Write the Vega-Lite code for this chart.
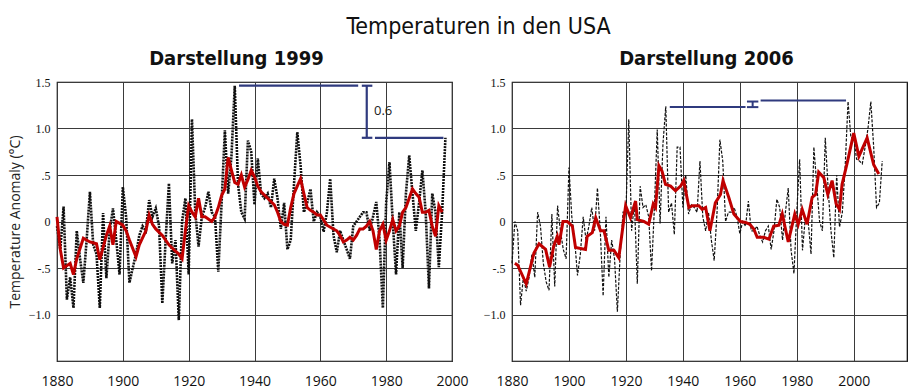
{
  "$schema": "https://vega.github.io/schema/vega-lite/v6.json",
  "background": "white",
  "padding": {"left": 7, "top": 16, "right": 6, "bottom": 2},
  "title": {"text": "Temperaturen in den USA", "fontSize": 23, "font": "Liberation Sans Narrow, DejaVu Sans Condensed, sans-serif", "fontWeight": "normal", "anchor": "middle", "offset": 9, "color": "#111", "dx": 21},
  "spacing": 13,
  "config": {
    "view": {"stroke": "black", "strokeWidth": 1.2},
    "axis": {"domain": false, "gridColor": "#3a3a3a", "gridOpacity": 1, "gridWidth": 1, "labelColor": "#111", "ticks": false},
    "title": {"font": "Liberation Sans Narrow, DejaVu Sans Condensed, sans-serif", "fontSize": 20, "fontWeight": "bold", "color": "#111", "offset": 7}
  },
  "datasets": {
    "left_annual": [
      {"year":1880,"value":-0.05},{"year":1881,"value":-0.3},{"year":1882,"value":0.16},{"year":1883,"value":-0.84},{"year":1884,"value":-0.6},{"year":1885,"value":-0.93},{"year":1886,"value":-0.1},{"year":1887,"value":-0.4},{"year":1888,"value":-0.66},{"year":1889,"value":-0.2},
      {"year":1890,"value":0.32},{"year":1891,"value":-0.25},{"year":1892,"value":-0.35},{"year":1893,"value":-0.93},{"year":1894,"value":0.09},{"year":1895,"value":-0.61},{"year":1896,"value":-0.1},{"year":1897,"value":0.14},{"year":1898,"value":-0.2},{"year":1899,"value":-0.57},
      {"year":1900,"value":0.37},{"year":1901,"value":0.05},{"year":1902,"value":-0.66},{"year":1903,"value":-0.5},{"year":1904,"value":-0.35},{"year":1905,"value":-0.15},{"year":1906,"value":-0.05},{"year":1907,"value":-0.1},{"year":1908,"value":0.23},{"year":1909,"value":0.05},
      {"year":1910,"value":0.14},{"year":1911,"value":-0.05},{"year":1912,"value":-0.88},{"year":1913,"value":-0.2},{"year":1914,"value":0.41},{"year":1915,"value":-0.45},{"year":1916,"value":-0.2},{"year":1917,"value":-1.06},{"year":1918,"value":0.0},{"year":1919,"value":0.25},
      {"year":1920,"value":-0.57},{"year":1921,"value":1.1},{"year":1922,"value":0.1},{"year":1923,"value":-0.27},{"year":1924,"value":0.05},{"year":1925,"value":0.15},{"year":1926,"value":0.32},{"year":1927,"value":0.1},{"year":1928,"value":0.05},{"year":1929,"value":-0.54},
      {"year":1930,"value":0.2},{"year":1931,"value":0.98},{"year":1932,"value":0.3},{"year":1933,"value":0.7},{"year":1934,"value":1.46},{"year":1935,"value":0.4},{"year":1936,"value":0.1},{"year":1937,"value":0.03},{"year":1938,"value":0.87},{"year":1939,"value":0.75},
      {"year":1940,"value":0.18},{"year":1941,"value":0.68},{"year":1942,"value":0.3},{"year":1943,"value":0.25},{"year":1944,"value":0.3},{"year":1945,"value":0.15},{"year":1946,"value":0.46},{"year":1947,"value":0.25},{"year":1948,"value":-0.08},{"year":1949,"value":0.2},
      {"year":1950,"value":-0.3},{"year":1951,"value":-0.2},{"year":1952,"value":0.4},{"year":1953,"value":0.96},{"year":1954,"value":0.6},{"year":1955,"value":0.1},{"year":1956,"value":0.2},{"year":1957,"value":0.35},{"year":1958,"value":0.0},{"year":1959,"value":0.1},
      {"year":1960,"value":0.05},{"year":1961,"value":-0.11},{"year":1962,"value":0.1},{"year":1963,"value":0.46},{"year":1964,"value":-0.15},{"year":1965,"value":-0.33},{"year":1966,"value":-0.1},{"year":1967,"value":-0.2},{"year":1968,"value":-0.3},{"year":1969,"value":-0.4},
      {"year":1970,"value":-0.05},{"year":1971,"value":0.0},{"year":1972,"value":0.05},{"year":1973,"value":0.1},{"year":1974,"value":0.1},{"year":1975,"value":-0.1},{"year":1976,"value":0.05},{"year":1977,"value":0.21},{"year":1978,"value":-0.2},{"year":1979,"value":-0.93},
      {"year":1980,"value":0.2},{"year":1981,"value":0.64},{"year":1982,"value":0.0},{"year":1983,"value":-0.57},{"year":1984,"value":0.1},{"year":1985,"value":-0.5},{"year":1986,"value":0.3},{"year":1987,"value":0.71},{"year":1988,"value":0.3},{"year":1989,"value":-0.1},
      {"year":1990,"value":0.2},{"year":1991,"value":0.55},{"year":1992,"value":0.1},{"year":1993,"value":-0.72},{"year":1994,"value":0.3},{"year":1995,"value":0.1},{"year":1996,"value":-0.49},{"year":1997,"value":0.1},{"year":1998,"value":0.9}
    ],
    "left_mean": [
      {"year":1880,"value":0.05},{"year":1881,"value":-0.3},{"year":1882,"value":-0.5},{"year":1884,"value":-0.45},{"year":1885,"value":-0.57},{"year":1886,"value":-0.4},{"year":1888,"value":-0.18},{"year":1890,"value":-0.22},{"year":1892,"value":-0.24},{"year":1893,"value":-0.41},
      {"year":1895,"value":-0.15},{"year":1896,"value":-0.05},{"year":1897,"value":-0.25},{"year":1898,"value":0.0},{"year":1900,"value":-0.04},{"year":1901,"value":-0.1},{"year":1902,"value":-0.2},{"year":1904,"value":-0.38},{"year":1905,"value":-0.25},{"year":1907,"value":-0.1},
      {"year":1908,"value":0.07},{"year":1909,"value":-0.03},{"year":1910,"value":-0.08},{"year":1912,"value":-0.15},{"year":1914,"value":-0.25},{"year":1916,"value":-0.32},{"year":1917,"value":-0.35},{"year":1918,"value":-0.4},{"year":1919,"value":-0.1},{"year":1920,"value":0.17},
      {"year":1921,"value":0.1},{"year":1922,"value":0.05},{"year":1923,"value":0.25},{"year":1924,"value":0.05},{"year":1925,"value":0.05},{"year":1927,"value":0.0},{"year":1928,"value":0.05},{"year":1929,"value":0.15},{"year":1930,"value":0.28},{"year":1931,"value":0.35},
      {"year":1932,"value":0.69},{"year":1933,"value":0.55},{"year":1934,"value":0.42},{"year":1935,"value":0.4},{"year":1936,"value":0.5},{"year":1937,"value":0.37},{"year":1938,"value":0.45},{"year":1939,"value":0.55},{"year":1940,"value":0.48},{"year":1941,"value":0.38},
      {"year":1942,"value":0.32},{"year":1944,"value":0.25},{"year":1946,"value":0.18},{"year":1947,"value":0.1},{"year":1948,"value":0.0},{"year":1949,"value":-0.03},{"year":1950,"value":-0.04},{"year":1951,"value":0.15},{"year":1952,"value":0.3},{"year":1953,"value":0.38},
      {"year":1954,"value":0.46},{"year":1955,"value":0.3},{"year":1956,"value":0.15},{"year":1957,"value":0.12},{"year":1958,"value":0.1},{"year":1959,"value":0.07},{"year":1960,"value":0.07},{"year":1962,"value":-0.04},{"year":1964,"value":-0.08},{"year":1965,"value":-0.1},
      {"year":1966,"value":-0.15},{"year":1967,"value":-0.22},{"year":1968,"value":-0.2},{"year":1969,"value":-0.17},{"year":1970,"value":-0.2},{"year":1971,"value":-0.15},{"year":1972,"value":-0.08},{"year":1973,"value":-0.08},{"year":1974,"value":-0.05},{"year":1975,"value":0.0},
      {"year":1976,"value":-0.1},{"year":1977,"value":-0.3},{"year":1978,"value":-0.1},{"year":1979,"value":-0.03},{"year":1980,"value":-0.2},{"year":1981,"value":-0.1},{"year":1982,"value":0.02},{"year":1983,"value":-0.1},{"year":1984,"value":-0.05},{"year":1985,"value":0.1},
      {"year":1986,"value":0.15},{"year":1987,"value":0.25},{"year":1988,"value":0.35},{"year":1989,"value":0.3},{"year":1990,"value":0.26},{"year":1991,"value":0.1},{"year":1992,"value":0.1},{"year":1993,"value":0.12},{"year":1994,"value":-0.05},{"year":1995,"value":-0.16},
      {"year":1996,"value":0.17},{"year":1997,"value":0.1}
    ],
    "left_annot": [
      {"x1":1935.3,"x2":1971.5,"y1":1.46,"y2":1.46},
      {"x1":1972.6,"x2":1975.8,"y1":1.46,"y2":1.46},
      {"x1":1974.1,"x2":1974.1,"y1":1.46,"y2":0.9},
      {"x1":1972.6,"x2":1975.8,"y1":0.9,"y2":0.9},
      {"x1":1976.6,"x2":1997.4,"y1":0.9,"y2":0.9}
    ],
    "right_annual": [
      {"year":1880,"value":-0.45},{"year":1881,"value":0.0},{"year":1882,"value":-0.1},{"year":1883,"value":-0.9},{"year":1884,"value":-0.6},{"year":1885,"value":-0.75},{"year":1886,"value":-0.6},{"year":1887,"value":-0.35},{"year":1888,"value":-0.6},{"year":1889,"value":0.1},
      {"year":1890,"value":-0.05},{"year":1891,"value":-0.45},{"year":1892,"value":-0.65},{"year":1893,"value":-0.74},{"year":1894,"value":0.08},{"year":1895,"value":-0.7},{"year":1896,"value":0.17},{"year":1897,"value":-0.1},{"year":1898,"value":-0.3},{"year":1899,"value":-0.4},
      {"year":1900,"value":0.58},{"year":1901,"value":0.05},{"year":1902,"value":-0.2},{"year":1903,"value":-0.58},{"year":1904,"value":-0.35},{"year":1905,"value":0.05},{"year":1906,"value":-0.2},{"year":1907,"value":-0.05},{"year":1908,"value":0.15},{"year":1909,"value":-0.1},
      {"year":1910,"value":0.36},{"year":1911,"value":-0.1},{"year":1912,"value":-0.8},{"year":1913,"value":0.05},{"year":1914,"value":-0.6},{"year":1915,"value":-0.2},{"year":1916,"value":-0.4},{"year":1917,"value":-0.97},{"year":1918,"value":-0.35},{"year":1919,"value":0.1},
      {"year":1920,"value":0.1},{"year":1921,"value":1.1},{"year":1922,"value":-0.1},{"year":1923,"value":0.2},{"year":1924,"value":-0.67},{"year":1925,"value":0.38},{"year":1926,"value":0.15},{"year":1927,"value":0.18},{"year":1928,"value":0.05},{"year":1929,"value":-0.53},
      {"year":1930,"value":0.15},{"year":1931,"value":0.99},{"year":1932,"value":-0.02},{"year":1933,"value":0.83},{"year":1934,"value":1.24},{"year":1935,"value":0.1},{"year":1936,"value":0.2},{"year":1937,"value":-0.14},{"year":1938,"value":0.8},{"year":1939,"value":0.8},
      {"year":1940,"value":0.15},{"year":1941,"value":0.5},{"year":1942,"value":0.08},{"year":1943,"value":0.18},{"year":1944,"value":0.15},{"year":1945,"value":0.1},{"year":1946,"value":0.65},{"year":1947,"value":0.05},{"year":1948,"value":-0.1},{"year":1949,"value":0.1},
      {"year":1950,"value":-0.2},{"year":1951,"value":-0.42},{"year":1952,"value":0.1},{"year":1953,"value":0.88},{"year":1954,"value":0.65},{"year":1955,"value":0.0},{"year":1956,"value":0.1},{"year":1957,"value":0.1},{"year":1958,"value":0.15},{"year":1959,"value":0.05},
      {"year":1960,"value":-0.13},{"year":1961,"value":0.0},{"year":1962,"value":-0.05},{"year":1963,"value":0.22},{"year":1964,"value":-0.1},{"year":1965,"value":-0.1},{"year":1966,"value":-0.05},{"year":1967,"value":-0.15},{"year":1968,"value":-0.22},{"year":1969,"value":-0.1},
      {"year":1970,"value":-0.05},{"year":1971,"value":-0.3},{"year":1972,"value":-0.1},{"year":1973,"value":0.24},{"year":1974,"value":0.15},{"year":1975,"value":-0.2},{"year":1976,"value":0.1},{"year":1977,"value":0.36},{"year":1978,"value":-0.31},{"year":1979,"value":-0.56},
      {"year":1980,"value":0.1},{"year":1981,"value":0.67},{"year":1982,"value":-0.31},{"year":1983,"value":0.04},{"year":1984,"value":0.0},{"year":1985,"value":-0.35},{"year":1986,"value":0.8},{"year":1987,"value":0.4},{"year":1988,"value":0.0},{"year":1989,"value":-0.1},
      {"year":1990,"value":0.9},{"year":1991,"value":0.36},{"year":1992,"value":-0.1},{"year":1993,"value":-0.39},{"year":1994,"value":0.5},{"year":1995,"value":-0.06},{"year":1996,"value":0.1},{"year":1997,"value":0.6},{"year":1998,"value":1.29},{"year":1999,"value":0.9},
      {"year":2000,"value":0.9},{"year":2001,"value":0.67},{"year":2002,"value":0.65},{"year":2003,"value":0.62},{"year":2004,"value":0.8},{"year":2005,"value":1.0},{"year":2006,"value":1.29},{"year":2007,"value":0.8},{"year":2008,"value":0.15},{"year":2009,"value":0.2},
      {"year":2010,"value":0.65}
    ],
    "right_mean": [
      {"year":1881,"value":-0.45},{"year":1882,"value":-0.47},{"year":1885,"value":-0.67},{"year":1887.7,"value":-0.34},{"year":1889.5,"value":-0.24},{"year":1891.8,"value":-0.3},{"year":1893.2,"value":-0.49},{"year":1894.7,"value":-0.26},{"year":1895.9,"value":-0.16},{"year":1896.5,"value":-0.25},
      {"year":1897.9,"value":0.0},{"year":1899.4,"value":0.0},{"year":1901.2,"value":-0.05},{"year":1902.3,"value":-0.28},{"year":1905.8,"value":-0.3},{"year":1906.4,"value":-0.16},{"year":1908.2,"value":-0.12},{"year":1909.4,"value":0.04},{"year":1911.1,"value":-0.1},{"year":1912.3,"value":-0.1},
      {"year":1914,"value":-0.31},{"year":1915.8,"value":-0.31},{"year":1917.5,"value":-0.39},{"year":1919.9,"value":0.17},{"year":1921.6,"value":0.04},{"year":1923.4,"value":0.22},{"year":1924,"value":0.02},{"year":1926.3,"value":0.0},{"year":1928,"value":-0.03},{"year":1929.6,"value":0.19},
      {"year":1930.4,"value":0.15},{"year":1931.6,"value":0.6},{"year":1932.7,"value":0.54},{"year":1933.9,"value":0.4},{"year":1935.7,"value":0.38},{"year":1937.4,"value":0.33},{"year":1939.2,"value":0.38},{"year":1940.3,"value":0.44},{"year":1942.1,"value":0.15},{"year":1943.3,"value":0.17},
      {"year":1945.6,"value":0.17},{"year":1946.8,"value":0.13},{"year":1948,"value":0.15},{"year":1949.5,"value":-0.1},{"year":1951.4,"value":0.2},{"year":1953.2,"value":0.29},{"year":1954.1,"value":0.44},{"year":1956.1,"value":0.26},{"year":1957.9,"value":0.08},{"year":1960.2,"value":0.0},
      {"year":1962,"value":-0.01},{"year":1963.5,"value":-0.03},{"year":1964.9,"value":-0.08},{"year":1966.1,"value":-0.17},{"year":1968.4,"value":-0.17},{"year":1970.2,"value":-0.19},{"year":1971.9,"value":-0.05},{"year":1973.7,"value":-0.04},{"year":1974.9,"value":0.08},{"year":1977,"value":-0.22},
      {"year":1979.3,"value":0.08},{"year":1980.5,"value":-0.03},{"year":1981.9,"value":0.13},{"year":1983.6,"value":-0.03},{"year":1985.4,"value":0.26},{"year":1986.6,"value":0.29},{"year":1987.7,"value":0.53},{"year":1989.5,"value":0.47},{"year":1990.9,"value":0.29},{"year":1992.4,"value":0.44},
      {"year":1993.8,"value":0.19},{"year":1995,"value":0.13},{"year":1995.9,"value":0.4},{"year":1997.7,"value":0.63},{"year":2000,"value":0.95},{"year":2001.8,"value":0.7},{"year":2004.7,"value":0.9},{"year":2007,"value":0.61},{"year":2008.8,"value":0.51}
    ],
    "right_annot": [
      {"x1":1935.4,"x2":1962,"y1":1.23,"y2":1.23},
      {"x1":1962.5,"x2":1966.5,"y1":1.23,"y2":1.23},
      {"x1":1964.5,"x2":1964.5,"y1":1.23,"y2":1.29},
      {"x1":1962.5,"x2":1966.5,"y1":1.29,"y2":1.29},
      {"x1":1967.3,"x2":1997.3,"y1":1.3,"y2":1.3}
    ]
  },
  "hconcat": [
    {
      "width": 395, "height": 279,
      "title": {"text": "Darstellung 1999", "dx": -18},
      "layer": [
        {
          "data": {"name": "left_annual"},
          "mark": {"type": "line", "color": "#111", "strokeWidth": 2.6, "strokeDash": [2, 1]},
          "encoding": {
            "x": {"field": "year", "type": "quantitative", "scale": {"domain": [1880, 2000], "nice": false, "zero": false},
                  "axis": {"title": null, "values": [1880,1890,1900,1910,1920,1930,1940,1950,1960,1970,1980,1990,2000], "labelExpr": "datum.value % 20 == 0 ? datum.label : ''", "format": "d", "labelFont": "Open Sans", "labelFontSize": 14, "labelPadding": 13, "labelFlush": false}},
            "y": {"field": "value", "type": "quantitative", "scale": {"domain": [-1.5, 1.5], "nice": false},
                  "axis": {"title": "Temperature Anomaly (°C)", "titleFont": "Open Sans", "titleFontSize": 14, "titleFontWeight": "normal", "titleColor": "#222", "titlePadding": 6, "values": [-1.5,-1,-0.5,0,0.5,1,1.5], "labelExpr": "datum.value == -1.5 ? '' : datum.value == 0 ? '0' : datum.value == 0.5 ? '.5' : datum.value == -0.5 ? '-.5' : format(datum.value, '.1f')", "labelFont": "Liberation Serif", "labelFontSize": 12, "labelPadding": 7}}
          }
        },
        {
          "data": {"name": "left_mean"},
          "mark": {"type": "line", "color": "#c00000", "strokeWidth": 3},
          "encoding": {"x": {"field": "year", "type": "quantitative"}, "y": {"field": "value", "type": "quantitative"}}
        },
        {
          "data": {"name": "left_annot"},
          "mark": {"type": "rule", "color": "#2f3a7e", "strokeWidth": 2.2},
          "encoding": {"x": {"field": "x1", "type": "quantitative"}, "x2": {"field": "x2"}, "y": {"field": "y1", "type": "quantitative"}, "y2": {"field": "y2"}}
        },
        {
          "data": {"values": [{"year": 1976.3, "value": 1.19, "label": "0.6"}]},
          "mark": {"type": "text", "align": "left", "baseline": "middle", "font": "Open Sans", "fontSize": 13, "color": "#222"},
          "encoding": {"x": {"field": "year", "type": "quantitative"}, "y": {"field": "value", "type": "quantitative"}, "text": {"field": "label"}}
        }
      ]
    },
    {
      "width": 395, "height": 279,
      "title": {"text": "Darstellung 2006", "dx": -3},
      "layer": [
        {
          "data": {"name": "right_annual"},
          "mark": {"type": "line", "color": "#111", "strokeWidth": 1.2, "strokeDash": [3, 1.5]},
          "encoding": {
            "x": {"field": "year", "type": "quantitative", "scale": {"domain": [1880, 2018.7], "nice": false, "zero": false},
                  "axis": {"title": null, "values": [1880,1890,1900,1910,1920,1930,1940,1950,1960,1970,1980,1990,2000,2010], "labelExpr": "datum.value % 20 == 0 ? datum.label : ''", "format": "d", "labelFont": "Open Sans", "labelFontSize": 14, "labelPadding": 13, "labelFlush": false}},
            "y": {"field": "value", "type": "quantitative", "scale": {"domain": [-1.5, 1.5], "nice": false},
                  "axis": {"title": null, "values": [-1.5,-1,-0.5,0,0.5,1,1.5], "labelExpr": "datum.value == -1.5 ? '' : datum.value == 0 ? '0' : datum.value == 0.5 ? '.5' : datum.value == -0.5 ? '-.5' : format(datum.value, '.1f')", "labelFont": "Liberation Serif", "labelFontSize": 12, "labelPadding": 7}}
          }
        },
        {
          "data": {"name": "right_mean"},
          "mark": {"type": "line", "color": "#c00000", "strokeWidth": 3},
          "encoding": {"x": {"field": "year", "type": "quantitative"}, "y": {"field": "value", "type": "quantitative"}}
        },
        {
          "data": {"name": "right_annot"},
          "mark": {"type": "rule", "color": "#2f3a7e", "strokeWidth": 2},
          "encoding": {"x": {"field": "x1", "type": "quantitative"}, "x2": {"field": "x2"}, "y": {"field": "y1", "type": "quantitative"}, "y2": {"field": "y2"}}
        }
      ]
    }
  ]
}
